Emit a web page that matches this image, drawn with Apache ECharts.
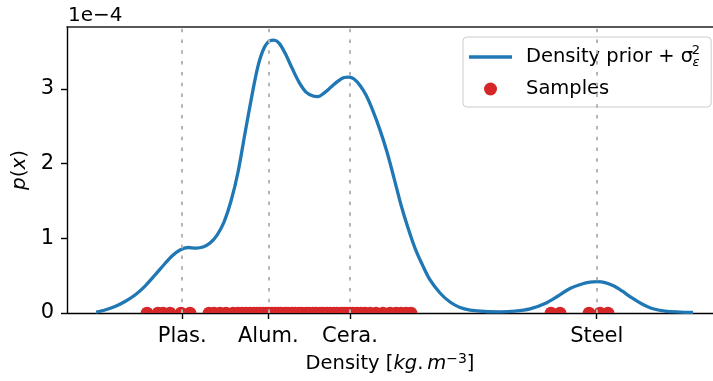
<!DOCTYPE html>
<html>
<head>
<meta charset="utf-8">
<script src="https://cdn.jsdelivr.net/npm/echarts@6/dist/echarts.min.js"></script>
<style>
  html, body { margin: 0; padding: 0; background: #ffffff; }
  #chart { width: 713px; height: 381px; }
</style>
</head>
<body>
<div id="chart"></div>
<script>
// Reference materials marked on the density axis (kg/m^3)
const materialNames = ['Plas.', 'Alum.', 'Cera.', 'Steel'];
const materialDensity = [1350, 2700, 3980, 7850];

// Density prior + noise variance, p(x) in units of 1e-4
const priorX = [0, 139, 296, 453, 610, 767, 923, 1080, 1190, 1315,
  1441, 1566, 1676, 1786, 1896, 2005, 2115, 2225, 2335, 2444,
  2538, 2633, 2727, 2789, 2868, 2962, 3072, 3181, 3291, 3401,
  3479, 3573, 3683, 3793, 3887, 3965, 4044, 4138, 4232, 4342,
  4452, 4561, 4671, 4781, 4891, 5000, 5110, 5236, 5392, 5549,
  5706, 5863, 6098, 6333, 6569, 6804, 7039, 7243, 7431, 7619,
  7745, 7854, 7980, 8121, 8246, 8403, 8560, 8717, 8921, 9156, 9360];
const priorY = [0.013, 0.040, 0.087, 0.154, 0.241, 0.361, 0.509, 0.663, 0.763, 0.843,
  0.877, 0.870, 0.884, 0.937, 1.044, 1.218, 1.499, 1.888, 2.410, 2.918,
  3.307, 3.548, 3.648, 3.655, 3.614, 3.481, 3.280, 3.092, 2.958, 2.905,
  2.898, 2.945, 3.025, 3.106, 3.153, 3.159, 3.133, 3.046, 2.918, 2.704,
  2.449, 2.155, 1.807, 1.446, 1.138, 0.870, 0.656, 0.442, 0.268, 0.147,
  0.074, 0.040, 0.020, 0.016, 0.024, 0.054, 0.127, 0.228, 0.328, 0.388,
  0.412, 0.419, 0.408, 0.361, 0.295, 0.201, 0.120, 0.060, 0.024, 0.013, 0.009];

// Sampled densities (kg/m^3), drawn on the baseline
const sampleX = [798, 970, 1049, 1159, 1331, 1472,
  1770, 1849, 1943, 2037, 2147, 2225, 2288, 2350, 2413, 2476,
  2523, 2570, 2617, 2664, 2711, 2758, 2805, 2852, 2899, 2962,
  3009, 3072, 3119, 3181, 3228, 3291, 3338, 3401, 3448, 3511,
  3558, 3620, 3667, 3730, 3777, 3840, 3887, 3934, 3981, 4028,
  4091, 4154, 4216, 4295, 4389, 4499, 4608, 4702, 4781, 4859, 4938,
  7133, 7274, 7729, 7901, 8027];

const yTicks = [0, 1, 2, 3];

const FONT = 'DejaVu Sans';
const BLUE = '#1f77b4';
const RED = '#d62728';
const X_MIN = -457, X_MAX = 9673;
const Y_MAX = 3.83;

const chart = echarts.init(document.getElementById('chart'), null, { renderer: 'canvas' });

const option = {
  animation: false,
  backgroundColor: '#ffffff',
  grid: { left: 67, right: 0, top: 27, bottom: 68, outerBoundsMode: 'none' },
  xAxis: [
    {
      type: 'value', min: X_MIN, max: X_MAX,
      axisLine: { show: true, onZero: false, lineStyle: { color: '#000', width: 1.4 } },
      axisTick: { show: true, length: 6, customValues: materialDensity,
        lineStyle: { color: '#000', width: 1.4 } },
      axisLabel: {
        customValues: materialDensity, margin: 13,
        fontFamily: FONT, fontSize: 21, color: '#000',
        formatter: v => materialNames[materialDensity.indexOf(v)]
      },
      splitLine: { show: false },
      name: 'Density [{i|kg}.\u2009{i|m}{sup|\u22123}]',
      nameLocation: 'middle', nameGap: 35,
      nameTextStyle: {
        fontFamily: FONT, fontSize: 19.5, color: '#000', lineHeight: 25,
        rich: {
          i: { fontFamily: FONT, fontSize: 19.5, fontStyle: 'italic', color: '#000', lineHeight: 25 },
          sup: { fontFamily: FONT, fontSize: 14, color: '#000', verticalAlign: 'top', lineHeight: 15 }
        }
      }
    },
    {
      // upper frame line
      type: 'value', position: 'top', min: X_MIN, max: X_MAX,
      axisLine: { show: true, onZero: false, lineStyle: { color: '#222', width: 1.6 } },
      axisTick: { show: false }, axisLabel: { show: false }, splitLine: { show: false }
    }
  ],
  yAxis: {
    type: 'value', min: 0, max: Y_MAX,
    axisLine: { show: true, onZero: false, lineStyle: { color: '#000', width: 1.4 } },
    axisTick: { show: true, length: 6, customValues: yTicks, lineStyle: { color: '#000', width: 1.4 } },
    axisLabel: { customValues: yTicks, margin: 13, fontFamily: FONT, fontSize: 21, color: '#000' },
    splitLine: { show: false },
    name: '{i|p}({i|x})',
    nameLocation: 'middle', nameRotate: 90, nameGap: 36,
    nameTextStyle: {
      fontFamily: FONT, fontSize: 20, color: '#000',
      rich: { i: { fontFamily: FONT, fontSize: 20, fontStyle: 'italic', color: '#000' } }
    }
  },
  legend: {
    orient: 'vertical', left: 463, top: 37,
    padding: [9, 9, 7, 6],
    itemGap: 10, itemWidth: 43, itemHeight: 13,
    symbolKeepAspect: true,
    backgroundColor: 'rgba(255,255,255,0.8)',
    borderColor: '#cccccc', borderWidth: 1, borderRadius: 4,
    textStyle: {
      fontFamily: FONT, fontSize: 19.5, color: '#000', lineHeight: 22,
      rich: {
        t: { fontFamily: FONT, fontSize: 19.5, color: '#000', padding: [0, 0, 0, 9], lineHeight: 22 },
        g: { width: 9 }
      }
    },
    data: [
      { name: 'Density prior + σ²ε', icon: 'path://M0,0 H43 V3.3 H0 Z' },
      { name: 'Samples', icon: 'circle' }
    ],
    formatter: name => name === 'Samples'
      ? '{t|Samples}'
      : '{t|Density prior + \u03c3}{g|}'
  },
  graphic: [
    { type: 'text', left: 68, top: 6, z: 100,
      style: { text: '1e\u22124', fontFamily: FONT, fontSize: 20, fill: '#000' } },
    { type: 'text', x: 696, y: 51, z: 100,
      style: { text: '2', fontFamily: FONT, fontSize: 13, fill: '#000', align: 'center', verticalAlign: 'middle' } },
    { type: 'text', x: 696, y: 62.5, z: 100,
      style: { text: '\u03b5', fontFamily: FONT, fontSize: 13, fontStyle: 'italic', fill: '#000', align: 'center', verticalAlign: 'middle' } }
  ],
  series: [
    {
      // dotted guides at each material density
      name: 'guides', type: 'line', data: [], z: 1, silent: true,
      markLine: {
        silent: true, symbol: ['none', 'none'], animation: false,
        label: { show: false },
        lineStyle: { color: '#b4b4b4', width: 2, type: [3.5, 7.3] },
        emphasis: { disabled: true },
        data: materialDensity.map(v => ({ xAxis: v }))
      }
    },
    {
      name: 'Density prior + σ²ε', type: 'line', z: 3,
      data: priorX.map((x, i) => [x, priorY[i]]),
      smooth: 0.3, symbol: 'none', showSymbol: false,
      lineStyle: { color: BLUE, width: 3.3 },
      itemStyle: { color: BLUE }
    },
    {
      name: 'Samples', type: 'scatter', z: 4,
      data: sampleX.map(x => [x, 0]),
      symbol: 'path://M0,10 A10,10 0 0 1 20,10 Z',
      symbolSize: [12.6, 6.3],
      symbolOffset: [0, '-50%'],
      itemStyle: { color: RED, opacity: 1 }
    }
  ]
};

chart.setOption(option);
</script>
</body>
</html>
